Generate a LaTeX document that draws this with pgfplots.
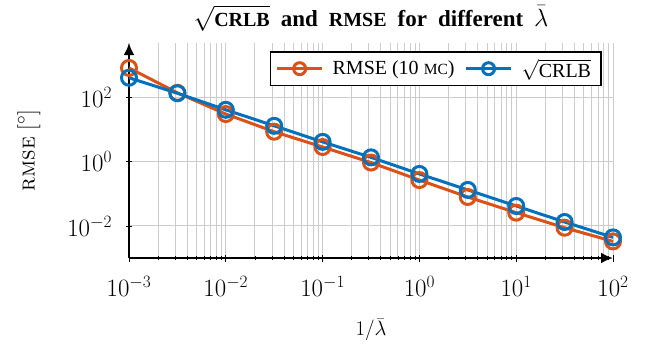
\documentclass[border=0pt]{standalone}
\usepackage{pgfplots}
\pgfplotsset{compat=1.18}
\usetikzlibrary{arrows.meta}
\usepackage{fontspec}
\newfontfamily\tnr{Liberation Serif}
\definecolor{mOrange}{RGB}{217,83,25}
\definecolor{mBlue}{RGB}{0,114,189}
\begin{document}
\begin{tikzpicture}
\begin{axis}[
  scale only axis, width=484pt, height=215pt,
  xmode=log, ymode=log,
  xmin=1e-3, xmax=1e2, ymin=1e-3, ymax=5100,
  axis lines=left,
  axis line style={line width=2.6pt, -{Latex[length=12pt,width=11pt]}},
  xtick={1e-3,1e-2,1e-1,1,10,100},
  ytick={1e-2,1,100},
  xmajorgrids=true, xminorgrids=true, ymajorgrids=true, yminorgrids=false,
  minor y tick num=0,
  major grid style={black!20, line width=1pt},
  minor grid style={black!20, line width=0.9pt},
  major tick length=7pt, minor tick length=4pt,
  tick style={black, line width=0.8pt},
  tick label style={font=\fontsize{27}{27}\selectfont},
  xticklabel style={yshift=-11pt},
  yticklabel style={xshift=-10pt},
  xlabel={$1/\bar\lambda$},
  every axis x label/.style={at={(axis description cs:0.5,-0.335)}, anchor=center, font=\fontsize{21}{21}\selectfont},
  ylabel={\textsc{rmse} [$^\circ$]},
  every axis y label/.style={at={(axis description cs:-0.2066,0.5)}, rotate=90, anchor=center, font=\fontsize{23}{23}\selectfont},
  legend columns=2,
  legend style={at={(rel axis cs:0.977,0.963)}, anchor=north east, draw=black, line width=1.6pt,
    font=\tnr\fontsize{20}{20}\selectfont, inner xsep=5pt, inner ysep=7pt,
    nodes={inner sep=0pt},
    /tikz/every odd column/.append style={column sep=9pt},
    /tikz/every even column/.append style={column sep=10pt}},
  legend image code/.code={\draw[mark repeat=2,mark phase=2, mark size=6pt] plot coordinates {(0pt,0pt)(22.5pt,0pt)(45pt,0pt)};},
  every axis plot/.append style={line width=3pt, mark=o, mark size=7.5pt},
  clip=false,
]
\addplot[color=mOrange] coordinates {
(1e-3,850)(3.162e-3,142)(1e-2,31)(3.162e-2,8.7)(1e-1,2.9)(3.162e-1,0.95)(1,0.27)(3.162,0.08)(10,0.026)(31.62,0.0088)(100,0.0033)};
\addlegendentry{RMSE (10 {\fontsize{15.5}{15.5}\selectfont MC})}
\addplot[color=mBlue] coordinates {
(1e-3,420)(3.162e-3,138)(1e-2,42)(3.162e-2,13.3)(1e-1,4.2)(3.162e-1,1.38)(1,0.42)(3.162,0.133)(10,0.042)(31.62,0.0133)(100,0.0044)};
\addlegendentry{$\sqrt{\mbox{\tnr\fontsize{20}{20}\selectfont CRLB}}$\hspace*{5pt}}
\node[anchor=base, font=\tnr\bfseries\fontsize{23}{23}\selectfont, inner sep=0pt] at ([yshift=17pt]rel axis cs:0.5,1)
  {$\sqrt{\mbox{\tnr\bfseries\fontsize{20}{20}\selectfont CRLB}}$\hspace{11pt}and\hspace{11pt}{\fontsize{20}{20}\selectfont RMSE}\hspace{11pt}for\hspace{11pt}different\hspace{11pt}$\bar\lambda$};
\coordinate (O) at (rel axis cs:0,0);
\end{axis}
\pgfresetboundingbox
\path (O) ++(-129pt,-85pt) rectangle ++(652pt,343pt);
\end{tikzpicture}
\end{document}
